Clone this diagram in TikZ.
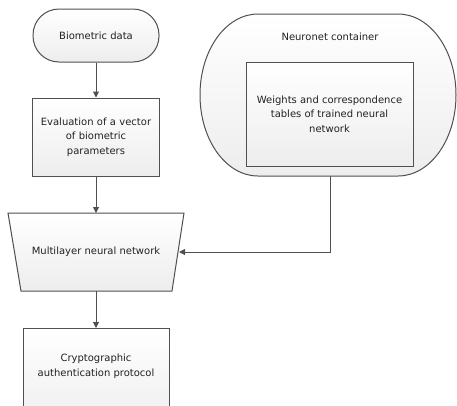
\documentclass[tikz,border=0pt]{standalone}
\usepackage{fontspec}
\setmainfont{DejaVu Sans}
\usetikzlibrary{arrows.meta}
\definecolor{edge}{HTML}{505050}
\definecolor{txt}{HTML}{222222}
\begin{document}
\begin{tikzpicture}[x=1pt,y=-1pt,
  every node/.style={font=\fontsize{10}{14.5}\selectfont, text=txt},
  shapebox/.style={draw=edge, line width=1pt, top color=white, bottom color=black!7},
  conn/.style={draw=edge, line width=1pt, -{Triangle[length=6pt,width=6pt]}}]
\useasboundingbox (0,0) rectangle (457,405);
\clip (0,0) rectangle (457,405);
% Biometric data
\node[shapebox, rounded corners=26pt, minimum width=126pt, minimum height=53pt] (bio) at (96,35.5) {Biometric data};
% Evaluation box
\node[shapebox, minimum width=126pt, minimum height=78pt, align=center, text width=120pt] (eval) at (96,137) {Evaluation of a vector\\of biometric\\parameters};
% Trapezoid
\path[shapebox] (8,213) -- (184,213) -- (172,291) -- (21,291) -- cycle;
\node (mnn) at (96,252) {Multilayer neural network};
\coordinate (mnnN) at (96,213);
\coordinate (mnnS) at (96,291);
\coordinate (mnnE) at (179,252);
% Crypto box
\path[shapebox] (23,328) rectangle (169,430);
\coordinate (cryN) at (96,328);
\node[align=center] (cry) at (96,366) {Cryptographic\\authentication protocol};
% Container
\path[shapebox] (258,14) -- (398,14) .. controls (430,14) and (456,50) .. (456,95) .. controls (456,140) and (430,176) .. (398,176) -- (258,176) .. controls (226,176) and (200,140) .. (200,95) .. controls (200,50) and (226,14) .. (258,14) -- cycle;
\node (cont) at (330,37) {Neuronet container};
\coordinate (contS) at (330,176);
\node[shapebox, minimum width=167pt, minimum height=104pt, align=center] (wts) at (329.5,114) {Weights and correspondence\\tables of trained neural\\network};
% Connectors
\draw[conn] (bio) -- (eval);
\draw[conn] (eval) -- (mnnN);
\draw[conn] (mnnS) -- (cryN);
\draw[conn] (contS) |- (mnnE);
\end{tikzpicture}
\end{document}
